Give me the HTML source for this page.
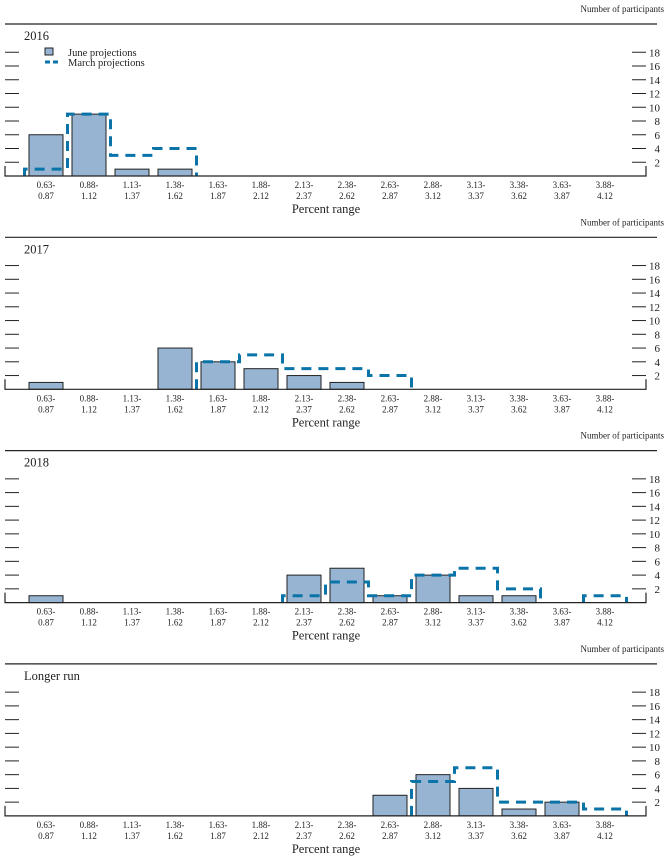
<!DOCTYPE html>
<html><head><meta charset="utf-8"><style>
body{margin:0;background:#fff;}
svg{display:block;font-family:"Liberation Serif",serif;}
</style></head><body>
<svg id="chart" width="672" height="858"></svg>
<script>
const bins = ["0.63-|0.87","0.88-|1.12","1.13-|1.37","1.38-|1.62","1.63-|1.87","1.88-|2.12","2.13-|2.37","2.38-|2.62","2.63-|2.87","2.88-|3.12","3.13-|3.37","3.38-|3.62","3.63-|3.87","3.88-|4.12"];
const panelTitles = ["2016","2017","2018","Longer run"];
const yTicks = [2,4,6,8,10,12,14,16,18];
const june2016 = [6,9,1,1,0,0,0,0,0,0,0,0,0,0];
const march2016 = [1,9,3,4,0,0,0,0,0,0,0,0,0,0];
const june2017 = [1,0,0,6,4,3,2,1,0,0,0,0,0,0];
const march2017 = [0,0,0,0,4,5,3,3,2,0,0,0,0,0];
const june2018 = [1,0,0,0,0,0,4,5,1,4,1,1,0,0];
const march2018 = [0,0,0,0,0,0,1,3,1,4,5,2,0,1];
const juneLR = [0,0,0,0,0,0,0,0,3,6,4,1,2,0];
const marchLR = [0,0,0,0,0,0,0,0,0,5,7,2,2,1];
const juneSeries = [june2016,june2017,june2018,juneLR];
const marchSeries = [march2016,march2017,march2018,marchLR];

const NS="http://www.w3.org/2000/svg";
const svg=document.getElementById('chart');
function mk(tag,attrs,parent){const e=document.createElementNS(NS,tag);for(const k in attrs)e.setAttribute(k,attrs[k]);(parent||svg).appendChild(e);return e;}
const X0=46, DX=43, BW=34, UNIT=6.875;
const xC=i=>X0+i*DX;
panelTitles.forEach((title,p)=>{
  const off=p*213.3;
  const base=176+off, top=24+off;
  const y=v=>base-v*UNIT;
  const g=mk('g',{});
  
  
  let t=mk('text',{x:664,y:12+off,'font-size':9,'text-anchor':'end',fill:'#222'},g);t.textContent='Number of participants';
  
  let l=mk('line',{x1:5,x2:657,y1:top,y2:top,stroke:'#222','stroke-width':1.2},g);
  
  t=mk('text',{x:24,y:40+off,'font-size':12.5,fill:'#222'},g);t.textContent=title;
  
  yTicks.forEach(v=>{
    let a=mk('line',{x1:5,x2:19,y1:y(v),y2:y(v),stroke:'#222','stroke-width':1},g);
    
    let b=mk('line',{x1:632,x2:646,y1:y(v),y2:y(v),stroke:'#222','stroke-width':1},g);
    
    let tt=mk('text',{x:660,y:y(v)+4,'font-size':11,'text-anchor':'end',fill:'#222'},g);tt.textContent=v;
    
  });
  juneSeries[p].forEach((v,i)=>{
    if(v<=0)return;
    let r=mk('rect',{x:xC(i)-BW/2,y:y(v),width:BW,height:v*UNIT,fill:'#97b4d3',stroke:'#222','stroke-width':1},g);
    
  });
  // march outline
  const m=marchSeries[p];let d='';
  for(let i=0;i<m.length;i++){
    const prev=i>0?m[i-1]:0, v=m[i];
    const xl=xC(i)-21.5, xr=xC(i)+21.5;
    if(v>0){
      if(prev===0) d+=`M${xl},${base} L${xl},${y(v)} `;
      else d+=`L${xl},${y(prev)} L${xl},${y(v)} `;
      d+=`L${xr},${y(v)} `;
      const nxt=i+1<m.length?m[i+1]:0;
      if(nxt===0) d+=`L${xr},${base} `;
    }
  }
  let mp=mk('path',{d:d,fill:'none',stroke:'#0a73a8','stroke-width':3,'stroke-dasharray':'10,7'},g);
  
  let ax=mk('path',{d:`M5,${base-10} L5,${base} L646,${base} L646,${base-10}`,fill:'none',stroke:'#222','stroke-width':1.2},g);
  
  bins.forEach((b,i)=>{
    const [a,c]=b.split('|');
    let t1=mk('text',{x:xC(i),y:base+12,'font-size':9,'text-anchor':'middle',fill:'#222'},g);t1.textContent=a;
    
    let t2=mk('text',{x:xC(i),y:base+23,'font-size':9,'text-anchor':'middle',fill:'#222'},g);t2.textContent=c;
    
  });
  t=mk('text',{x:326,y:base+37,'font-size':12.5,'text-anchor':'middle',fill:'#222'},g);t.textContent='Percent range';
  
});
// legend
const lg=mk('g',{});

let lr=mk('rect',{x:45,y:48,width:8,height:7,fill:'#97b4d3',stroke:'#222','stroke-width':1},lg);

let lt=mk('text',{x:68,y:56,'font-size':10.5,fill:'#222'},lg);lt.textContent='June projections';

let ll=mk('line',{x1:45,x2:60,y1:62,y2:62,stroke:'#0a73a8','stroke-width':3,'stroke-dasharray':'5,3'},lg);

lt=mk('text',{x:68,y:66,'font-size':10.5,fill:'#222'},lg);lt.textContent='March projections';

</script>
</body></html>
